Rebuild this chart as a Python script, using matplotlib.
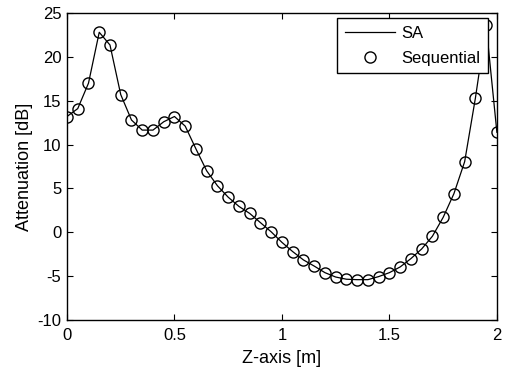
import matplotlib
matplotlib.use("Agg")
import matplotlib.pyplot as plt
import numpy as np

plt.rcParams['font.family'] = ['Liberation Sans', 'DejaVu Sans']
plt.rcParams['axes.unicode_minus'] = False

# Z-axis positions [m] and attenuation [dB]
z_pos = [0.00, 0.05, 0.10, 0.15, 0.20, 0.25, 0.30, 0.35, 0.40, 0.45,
         0.50, 0.55, 0.60, 0.65, 0.70, 0.75, 0.80, 0.85, 0.90, 0.95,
         1.00, 1.05, 1.10, 1.15, 1.20, 1.25, 1.30, 1.35, 1.40, 1.45,
         1.50, 1.55, 1.60, 1.65, 1.70, 1.75, 1.80, 1.85, 1.90, 1.95, 2.00]
atten_sa = [13.2, 14.1, 17.0, 22.8, 21.35, 15.7, 12.8, 11.65, 11.65, 12.6,
            13.2, 12.1, 9.5, 7.0, 5.3, 4.0, 2.95, 2.15, 1.1, 0.05,
            -1.15, -2.2, -3.15, -3.85, -4.6, -5.1, -5.35, -5.4, -5.4, -5.05,
            -4.6, -3.95, -3.0, -1.9, -0.45, 1.7, 4.4, 8.05, 15.3, 23.6, 11.4]
atten_seq = atten_sa

x_ticks = [0, 0.5, 1, 1.5, 2]
x_ticklabels = ['0', '0.5', '1', '1.5', '2']
y_ticks = [-10, -5, 0, 5, 10, 15, 20, 25]

fig = plt.figure(figsize=(5.06, 3.68), dpi=100)
ax = fig.add_axes([0.1324, 0.1304, 0.8496, 0.8343])

ax.plot(z_pos, atten_sa, color='black', linewidth=0.9, label='SA')
ax.plot(z_pos, atten_seq, linestyle='none', marker='o', markersize=8,
        markerfacecolor='none', markeredgecolor='black', markeredgewidth=1.0,
        label='Sequential')

ax.set_xlim(0, 2)
ax.set_ylim(-10, 25)
ax.set_xticks(x_ticks)
ax.set_xticklabels(x_ticklabels)
ax.set_yticks(y_ticks)

ax.tick_params(direction='in', top=True, right=True, length=4, labelsize=12)
ax.tick_params(axis='x', pad=6)
ax.tick_params(axis='y', pad=4)
for s in ax.spines.values():
    s.set_linewidth(1.0)

ax.set_xlabel('Z-axis [m]', fontsize=13, labelpad=5)
ax.set_ylabel('Attenuation [dB]', fontsize=13, labelpad=3)

leg = ax.legend(loc='upper right', fontsize=12, frameon=True, fancybox=False,
                handlelength=3.0, handletextpad=0.4, borderaxespad=0,
                labelspacing=0.6, borderpad=0.45,
                bbox_to_anchor=(488 / 506, 1 - 18 / 368),
                bbox_transform=fig.transFigure)
leg.get_frame().set_edgecolor('black')
leg.get_frame().set_linewidth(1.0)
leg.get_frame().set_alpha(1)

fig.savefig('out.png', dpi=100)
